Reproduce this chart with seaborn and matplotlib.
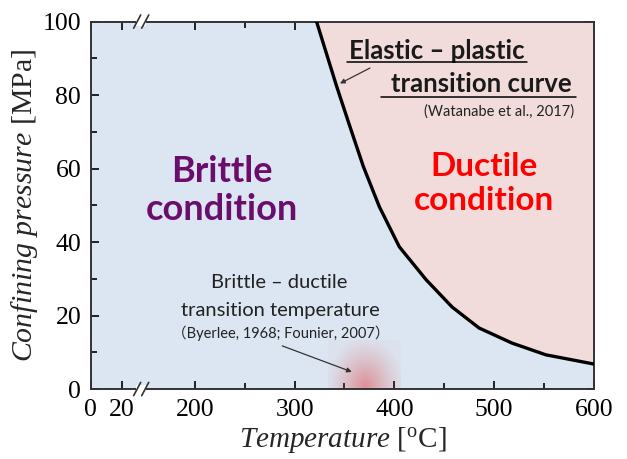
import numpy as np
import pandas as pd
import seaborn as sns
import matplotlib.pyplot as plt
from matplotlib.scale import FuncScale

# elastic-plastic transition curve
temp_curve = [322, 342, 356, 369, 385, 405, 432, 458, 485, 518, 552, 600]
pres_curve = [100, 82.5, 71.0, 60.5, 49.6, 38.7, 29.7, 22.3, 16.6, 12.5, 9.3, 6.8]

# brittle-ductile transition temperature marker
bdt_temp = 370
bdt_pres = 0.5

xticks = [0, 20, 200, 300, 400, 500, 600]
xminor = [250, 350, 450, 550]
yticks = [0, 20, 40, 60, 80, 100]
yminor = [10, 30, 50, 70, 90]

# broken temperature axis: 0-20 squeezed, then 200-600 linear
brk_t = [0, 20, 200, 600]
brk_x = [0, 31, 104, 503]

def fwd(t):
    return np.interp(t, brk_t, brk_x)

def inv(x):
    return np.interp(x, brk_x, brk_t)

sns.set_theme(style="ticks")
plt.rcParams["font.family"] = ["Liberation Serif", "DejaVu Serif"]
plt.rcParams["mathtext.fontset"] = "custom"
plt.rcParams["mathtext.rm"] = "Liberation Serif"
plt.rcParams["mathtext.it"] = "Liberation Serif:italic"

BLUE = "#dce6f2"
PINK = "#f2dcdb"
SANS = ["Lato", "Noto Sans CJK JP", "DejaVu Sans"]
INK = "#1a1a1a"

fig = plt.figure(figsize=(6.27, 4.59), dpi=100)
ax = fig.add_axes([0.145, 0.1525, 0.802, 0.8005])
ax.set_xscale(FuncScale(ax, (fwd, inv)))
ax.set_facecolor(BLUE)

df = pd.DataFrame({"T": temp_curve, "P": pres_curve})
ax.fill_between(df["T"], df["P"], 100, color=PINK, lw=0, zorder=1)
sns.lineplot(data=df, x="T", y="P", color="black", lw=2.4, ax=ax, zorder=3)

# red glow at the brittle-ductile transition temperature
gx, gy = np.meshgrid(np.linspace(-1, 1, 80), np.linspace(-1, 1, 80))
r = np.sqrt(gx**2 + gy**2)
glow = np.zeros((80, 80, 4))
glow[..., 0] = 0.86
glow[..., 1] = 0.25
glow[..., 2] = 0.25
glow[..., 3] = 0.025 + 0.5 * np.clip(1 - r / 1.1, 0, 1) ** 1.3
ax.imshow(glow, extent=[bdt_temp - 37, bdt_temp + 37, bdt_pres - 13, bdt_pres + 13],
          origin="lower", aspect="auto", zorder=2, interpolation="bilinear")

ax.set_xlim(0, 600)
ax.set_ylim(0, 100)
ax.set_xticks(xticks)
ax.set_xticks(xminor, minor=True)
ax.set_yticks(yticks)
ax.set_yticks(yminor, minor=True)
ax.tick_params(which="both", direction="in", top=True, right=True, width=1.2, colors="black",
               labelsize=18.5, pad=7)
ax.tick_params(which="major", length=6)
ax.tick_params(which="minor", length=4)
for s in ax.spines.values():
    s.set_linewidth(1.4)
    s.set_color("#333333")

ax.set_xlabel(r"$\mathit{Temperature}$ [$^{\mathrm{o}}$C]", fontsize=21, labelpad=3)
ax.set_ylabel(r"$\mathit{Confining\ pressure}$ [MPa]", fontsize=21.5, labelpad=2)

# axis break marks
for yb in (0, 1):
    ax.add_patch(plt.Rectangle((0.089, yb - 0.012), 0.02, 0.024, transform=ax.transAxes,
                               facecolor="white", edgecolor="none", clip_on=False, zorder=5))
    for xb in (0.085, 0.101):
        ax.plot([xb, xb + 0.014], [yb - 0.018, yb + 0.018], transform=ax.transAxes,
                color="#333333", lw=1.2, clip_on=False, zorder=6)

# region labels
ax.text(227, 54, "Brittle\ncondition", color="#6b0d6b", fontsize=26, fontweight="bold",
        family=SANS, ha="center", va="center", linespacing=1.2, zorder=4)
ax.text(490, 55.9, "Ductile\ncondition", color="#ff0000", fontsize=24, fontweight="bold",
        family=SANS, ha="center", va="center", linespacing=1.2, zorder=4)

# elastic-plastic annotation
ax.text(443, 89.8, "Elastic – plastic", fontsize=18.5, fontweight="bold", family=SANS,
        ha="center", va="baseline", color=INK, zorder=4)
ax.text(487, 80.7, "transition curve", fontsize=18.5, fontweight="bold", family=SANS,
        ha="center", va="baseline", color=INK, zorder=4)
ax.plot([353, 533], [88.9, 88.9], color="black", lw=1.1, zorder=4)
ax.plot([387, 582], [79.6, 79.6], color="black", lw=1.1, zorder=4)
ax.text(505, 74.4, "(Watanabe et al., 2017)", fontsize=10.5, family=SANS,
        ha="center", va="baseline", color="#222222", zorder=4)
ax.annotate("", xy=(343, 82.8), xytext=(378, 87.7),
            arrowprops=dict(arrowstyle="-|>", color="#333333", lw=0.9,
                            mutation_scale=7), zorder=4)

# brittle-ductile annotation
ax.text(285, 28.9, "Brittle – ductile", fontsize=14.5, family=SANS, ha="center", va="center",
        color="#222222", zorder=4)
ax.text(286, 21.5, "transition temperature", fontsize=14.5, family=SANS, ha="center",
        va="center", color="#222222", zorder=4)
ax.text(286, 15.3, "（Byerlee, 1968; Founier, 2007）", fontsize=10.5, family=SANS,
        ha="center", va="center", color="#222222", zorder=4)
ax.annotate("", xy=(360, 4.4), xytext=(285, 12),
            arrowprops=dict(arrowstyle="-|>", color="#333333", lw=0.9,
                            mutation_scale=7), zorder=4)

fig.savefig("out.png", dpi=100)
plt.close(fig)
